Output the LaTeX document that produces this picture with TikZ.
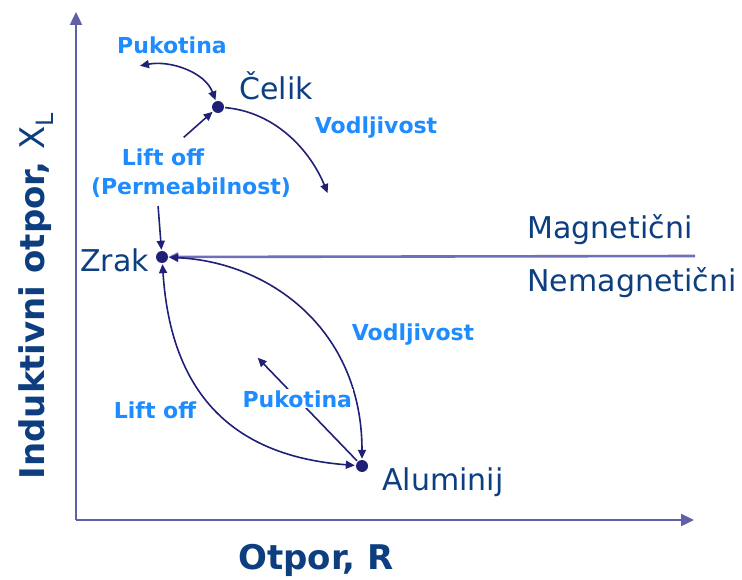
\documentclass[tikz,border=0pt]{standalone}
\usepackage{fontspec}
\setmainfont{DejaVu Sans}
\usepackage{tikz}
\usetikzlibrary{positioning,arrows.meta}
\definecolor{navycolor}{RGB}{32,32,118}
\definecolor{axiscolor}{RGB}{96,96,168}
\definecolor{sepcolor}{RGB}{110,110,185}
\definecolor{matcolor}{RGB}{12,62,128}
\definecolor{effcolor}{RGB}{30,140,255}
\tikzset{
  dot/.style={circle, fill=navycolor, inner sep=0pt, minimum size=12pt},
  mat/.style={font=\fontsize{30}{34}\selectfont, text=matcolor, inner sep=1pt},
  eff/.style={font=\fontsize{22}{26}\selectfont\bfseries, text=effcolor, inner sep=1pt},
  ttl/.style={font=\fontsize{34}{38}\selectfont\bfseries, text=matcolor, inner sep=1pt},
  link/.style={line width=1.6pt, draw=navycolor, shorten <=1pt, shorten >=1pt},
  tip/.style={-{Triangle[length=9pt,width=8pt]}},
  bitip/.style={{Triangle[length=9pt,width=8pt]}-{Triangle[length=9pt,width=8pt]}},
  axis/.style={line width=2.4pt, draw=axiscolor, -{Triangle[length=13pt,width=12pt]}},
  sep/.style={line width=2.6pt, draw=sepcolor, -{Triangle[length=10pt,width=9pt]}},
}

\begin{document}
\begin{tikzpicture}[x=1pt, y=-1pt]
\useasboundingbox (0,0) rectangle (742,580);
% axes
\coordinate (orig) at (76,520);
\coordinate (ytop) at (76,12);
\coordinate (xend) at (694,520);
\draw[axis] (orig) -- (ytop);
\draw[axis] (orig) -- (xend);
\node[ttl] (xlbl) at (316,560) {Otpor, R};
\node[ttl, rotate=90] (ylbl) at (36,296) {Induktivni otpor, {\mdseries X\textsubscript{L}}};
% materials
\node[dot] (celik) at (218,107) {};
\node[dot] (zrak) at (162,257) {};
\node[dot] (alu) at (362,466) {};
\node[mat] (celiklbl) at (276,86) {Čelik};
\node[mat, anchor=east] (zraklbl) at (150,260) {Zrak};
\node[mat] (alulbl) at (443,482) {Aluminij};
% magnetic / non-magnetic border
\coordinate (sepend) at (695,256);
\draw[sep] (sepend) -- (zrak);
\node[mat] (maglbl) at (610,230) {Magnetični};
\node[mat] (nmaglbl) at (632,283) {Nemagnetični};
% steel
\coordinate (pk1) at (139,66);
\coordinate (lo1) at (183,138);
\coordinate (vd1) at (328,194);
\coordinate (pm1) at (158,205);
\draw[link, bitip] (pk1) .. controls (170,60) and (205,72) .. (celik);
\draw[link, tip] (lo1) -- (celik);
\draw[link, tip] (celik) .. controls (275,112) and (310,150) .. (vd1);
\draw[link, tip] (pm1) -- (zrak);
\node[eff] (pklbl1) at (172,45) {Pukotina};
\node[eff] (vdlbl1) at (376,128) {Vodljivost};
\node[eff] (lolbl1) at (163,157) {Lift off};
\node[eff] (pmlbl) at (191,188) {(Permeabilnost)};
% aluminium
\coordinate (pk2) at (257,357);
\draw[link, bitip] (zrak) .. controls (170,380) and (220,455) .. (alu);
\draw[link, bitip] (zrak) .. controls (270,262) and (362,330) .. (alu);
\draw[link, tip] (alu) -- (pk2) node[eff, pos=0.6, fill=white] (pklbl2) {Pukotina};
\node[eff] (vdlbl2) at (413,335) {Vodljivost};
\node[eff] (lolbl2) at (155,410) {Lift off};
\end{tikzpicture}
\end{document}
